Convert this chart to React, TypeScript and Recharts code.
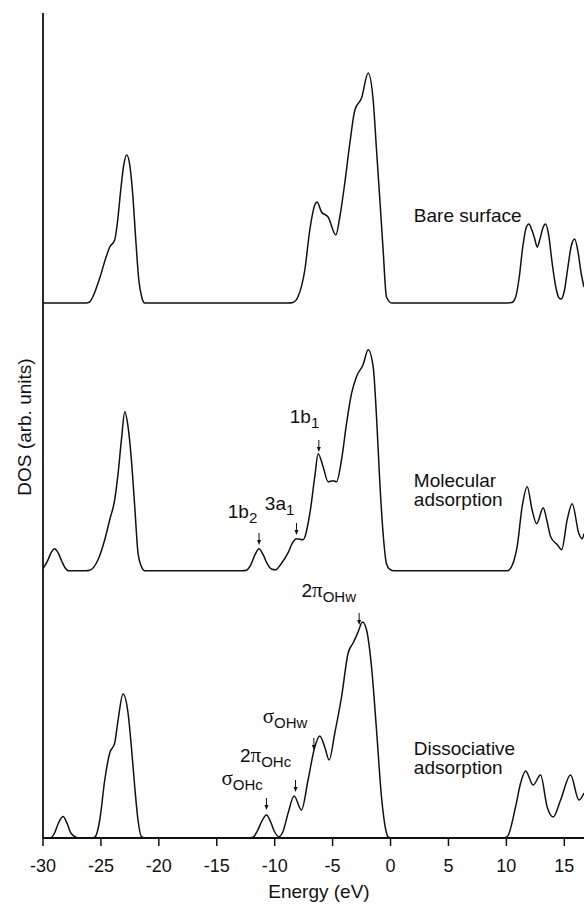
import React from 'react';
import { LineChart, Line, XAxis, YAxis, ReferenceDot, Label } from 'recharts';

// x axis ticks (eV)
const xTicks = [-30, -25, -20, -15, -10, -5, 0, 5, 10, 15];

// Bare surface DOS
const bareEnergy = [-30, -26.3, -25.97, -25.71, -25.1, -24.58, -24.24, -23.81, -23.55, -23.29, -23.03, -22.77, -22.51, -22.25, -21.99, -21.73, -21.48, -21.22, -20.9,
  -8.8, -8.43, -8.0, -7.4, -6.97, -6.54, -6.34, -5.96, -5.39, -4.72, -4.38, -3.95, -3.51, -3.08, -2.5, -1.93, -1.5, -1.21, -0.92, -0.64, -0.35, 0.11, 0.5,
  10.1, 10.47, 10.8, 11.1, 11.4, 11.7, 11.94, 12.2, 12.45, 12.66, 12.9, 13.15, 13.38, 13.65, 13.95, 14.3, 14.55, 14.73, 15.0, 15.3, 15.6, 15.89, 16.2, 16.45, 16.7];
const bareDos = [0, 0, 1, 6, 25, 45, 56, 63, 83, 113, 138, 148, 138, 108, 63, 23, 6, 0, 0,
  0, 0.5, 6, 33, 73, 98, 101, 91, 86, 68, 86, 120, 160, 193, 205, 230, 203, 153, 103, 53, 6, 0, 0,
  0, 0.5, 6, 25, 55, 75, 79, 73, 64, 56, 64, 75, 79, 68, 40, 14, 5, 4, 12, 35, 57, 64, 50, 30, 16];

// Molecular adsorption DOS
const molEnergy = [-30, -29.6, -29.3, -29.0, -28.7, -28.4, -28.1, -27.8, -26.3, -25.97, -25.25, -24.67, -24.24, -23.81, -23.52, -23.23, -22.94, -22.66, -22.37, -22.08, -21.8, -21.5, -21.22, -20.9,
  -12.8, -12.44, -12.1, -11.7, -11.35, -11.0, -10.6, -10.25, -9.9, -9.5, -8.84, -8.5, -8.12, -7.55, -6.97, -6.54, -6.25, -5.82, -5.39, -4.96, -4.66, -4.23, -3.8, -3.37, -2.94, -2.37, -1.93, -1.5, -1.21, -0.92, -0.64, -0.35, -0.06, 0.3,
  10.1, 10.36, 10.65, 10.93, 11.36, 11.8, 12.2, 12.61, 13.18, 13.5, 13.82, 14.39, 14.77, 15.25, 15.68, 16.26, 16.55, 16.7];
const molDos = [2, 10, 18, 22, 18, 10, 3, 0, 0, 0.5, 11, 31, 51, 71, 97, 131, 159, 144, 111, 64, 18, 4, 0, 0,
  0, 0.5, 5, 16, 22, 16, 6, 1.5, 1, 6, 18, 27, 32, 31, 57, 94, 117, 104, 89, 90, 89, 111, 147, 177, 194, 206, 221, 204, 154, 87, 37, 7, 1.4, 0,
  0, 2.4, 10, 24, 64, 84, 62, 47, 63, 50, 34, 26, 21, 51, 67, 37, 32, 37];

// Dissociative adsorption DOS
const disEnergy = [-30, -29.41, -29.0, -28.7, -28.27, -27.9, -27.6, -27.1, -26.9, -25.8, -25.53, -25.1, -24.67, -24.24, -23.81, -23.52, -23.09, -22.66, -22.37, -22.08, -21.8, -21.5, -21.22, -20.9,
  -12.4, -11.87, -11.5, -11.1, -10.71, -10.35, -10.0, -9.62, -9.3, -8.84, -8.32, -7.69, -7.12, -6.54, -6.11, -5.68, -5.3, -4.81, -4.23, -3.66, -3.23, -2.8, -2.42, -2.07, -1.64, -1.21, -0.78, -0.41, -0.21, 0.1,
  9.7, 10.07, 10.79, 11.23, 11.66, 12.31, 12.95, 13.52, 14.04, 14.68, 15.54, 16.26, 16.7];
const disDos = [0, 0, 5, 14, 21.5, 14, 5, 0.5, 0, 0, 0.7, 18, 58, 85, 95, 118, 144, 125, 91, 51, 18, 1.3, 0, 0,
  0, 0.7, 7, 17, 23, 16, 6, 1.3, 6, 25, 42, 28, 58, 91, 102, 91, 78, 105, 141, 185, 195, 206, 216, 208, 171, 108, 41, 8, 1, 0,
  0, 1.3, 31, 55, 67, 53, 63, 31, 21, 38, 63, 38, 45];

// vertical offsets (stacking) of the three curves
const bareOffset = 535;
const molOffset = 267.3;
const disOffset = 0;

const build = (es: number[], ds: number[], off: number) => es.map((e, i) => ({ E: e, y: ds[i] + off }));
const bareData = build(bareEnergy, bareDos, bareOffset);
const molData = build(molEnergy, molDos, molOffset);
const disData = build(disEnergy, disDos, disOffset);

const SANS = 'Liberation Sans, Arial, Helvetica, sans-serif';
const SERIF = 'Liberation Serif, Times New Roman, serif';

type Part = { t: string; sub?: boolean; greek?: boolean };

const labelShape = (parts: Part[], size = 19) => (props: any) => {
  const { cx, cy } = props;
  return (
    <text x={cx} y={cy} fontSize={size} fontFamily={SANS} fill="#111">
      {parts.map((p, pi) => {
        const prevSub = pi > 0 && parts[pi - 1].sub;
        let dy = 0;
        if (p.sub && !prevSub) dy = 5;
        if (!p.sub && prevSub) dy = -5;
        return (
          <tspan key={pi} dy={dy} fontSize={p.sub ? 15 : p.greek ? 21 : size} fontFamily={p.greek ? SERIF : SANS}>
            {p.t}
          </tspan>
        );
      })}
    </text>
  );
};

const blockShape = (lines: string[], size = 19, gap = 19) => (props: any) => {
  const { cx, cy } = props;
  return (
    <text x={cx} y={cy} fontSize={size} fontFamily={SANS} fill="#111">
      {lines.map((l, i) => (
        <tspan key={i} x={cx} dy={i === 0 ? 0 : gap}>
          {l}
        </tspan>
      ))}
    </text>
  );
};

const arrowShape = (props: any) => {
  const { cx, cy } = props;
  return (
    <g>
      <line x1={cx} y1={cy - 12} x2={cx} y2={cy - 4} stroke="#111" strokeWidth={1} />
      <path d={`M ${cx - 2} ${cy - 5} L ${cx + 2} ${cy - 5} L ${cx} ${cy} Z`} fill="#111" />
    </g>
  );
};

export default function App() {
  return (
    <div style={{ position: 'absolute', left: 0, top: 0, width: 584, height: 905, background: '#fff', fontFamily: SANS }}>
      <LineChart width={584} height={905} margin={{ top: 13, right: 0, bottom: 0, left: 0 }}>
        <XAxis
          dataKey="E"
          type="number"
          domain={[-30, 16.7]}
          allowDataOverflow
          ticks={xTicks}
          height={67}
          tickSize={8}
          tickMargin={13}
          axisLine={{ stroke: '#111', strokeWidth: 1.8 }}
          tickLine={{ stroke: '#111', strokeWidth: 1.5 }}
          tick={{ fill: '#111', fontSize: 18, fontFamily: SANS }}
        >
          <Label
            content={() => (
              <text x={319} y={897.5} textAnchor="middle" fontSize={19} fontFamily={SANS} fill="#111">
                Energy (eV)
              </text>
            )}
          />
        </XAxis>
        <XAxis
          xAxisId="top"
          orientation="top"
          type="number"
          domain={[-30, 16.7]}
          allowDataOverflow
          height={0}
          tick={false}
          tickLine={false}
          axisLine={{ stroke: '#111', strokeWidth: 1.5 }}
        />
        <YAxis
          type="number"
          domain={[0, 825]}
          allowDataOverflow
          width={43}
          tick={false}
          tickLine={false}
          axisLine={{ stroke: '#111', strokeWidth: 1.8 }}
        >
          <Label
            content={() => (
              <text x={30.5} y={427} transform="rotate(-90 30.5 427)" textAnchor="middle" fontSize={19} fontFamily={SANS} fill="#111">
                DOS (arb. units)
              </text>
            )}
          />
        </YAxis>
        <Line data={bareData} dataKey="y" type="monotone" dot={false} stroke="#111" strokeWidth={1.5} isAnimationActive={false} />
        <Line data={molData} dataKey="y" type="monotone" dot={false} stroke="#111" strokeWidth={1.5} isAnimationActive={false} />
        <Line data={disData} dataKey="y" type="monotone" dot={false} stroke="#111" strokeWidth={1.5} isAnimationActive={false} />

        <ReferenceDot x={2.01} y={616.3} r={0} shape={blockShape(['Bare surface'])} />
        <ReferenceDot x={2.01} y={350.7} r={0} shape={blockShape(['Molecular', 'adsorption'])} />
        <ReferenceDot x={2.01} y={82.7} r={0} shape={blockShape(['Dissociative', 'adsorption'])} />

        <ReferenceDot x={-8.7} y={415.3} r={0} shape={labelShape([{ t: '1b' }, { t: '1', sub: true }])} />
        <ReferenceDot x={-14.05} y={319.7} r={0} shape={labelShape([{ t: '1b' }, { t: '2', sub: true }])} />
        <ReferenceDot x={-10.85} y={328} r={0} shape={labelShape([{ t: '3a' }, { t: '1', sub: true }])} />
        <ReferenceDot x={-7.69} y={241.3} r={0} shape={labelShape([{ t: '2' }, { t: 'π', greek: true }, { t: 'OHw', sub: true }])} />
        <ReferenceDot x={-11.03} y={114.7} r={0} shape={labelShape([{ t: 'σ', greek: true }, { t: 'OHw', sub: true }])} />
        <ReferenceDot x={-13.0} y={76.3} r={0} shape={labelShape([{ t: '2' }, { t: 'π', greek: true }, { t: 'OHc', sub: true }])} />
        <ReferenceDot x={-14.6} y={53} r={0} shape={labelShape([{ t: 'σ', greek: true }, { t: 'OHc', sub: true }])} />

        <ReferenceDot x={-6.19} y={386} r={0} shape={arrowShape} />
        <ReferenceDot x={-11.35} y={293} r={0} shape={arrowShape} />
        <ReferenceDot x={-8.12} y={303} r={0} shape={arrowShape} />
        <ReferenceDot x={-2.71} y={213} r={0} shape={arrowShape} />
        <ReferenceDot x={-6.62} y={88} r={0} shape={arrowShape} />
        <ReferenceDot x={-8.2} y={46} r={0} shape={arrowShape} />
        <ReferenceDot x={-10.71} y={28} r={0} shape={arrowShape} />
      </LineChart>
    </div>
  );
}
